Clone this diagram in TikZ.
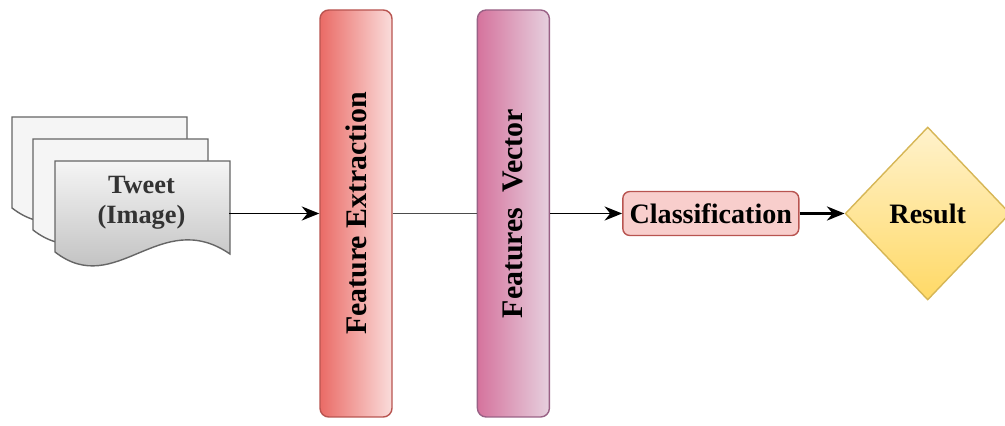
\documentclass[tikz,border=0pt]{standalone}
\usepackage{fontspec}
\setmainfont{Liberation Serif}
\newfontfamily\diagfont{Liberation Serif}
\usetikzlibrary{arrows.meta,positioning,shapes.geometric}

\definecolor{pageline}{HTML}{666666}
\definecolor{pagetop}{HTML}{F5F5F5}
\definecolor{pagebot}{HTML}{B3B3B3}
\definecolor{redline}{HTML}{B85450}
\definecolor{redlight}{HTML}{F8CECC}
\definecolor{reddark}{HTML}{EA6B66}
\definecolor{pinkline}{HTML}{996185}
\definecolor{pinklight}{HTML}{E6D0DE}
\definecolor{pinkdark}{HTML}{D5739D}
\definecolor{yelline}{HTML}{D6B656}
\definecolor{yellight}{HTML}{FFF2CC}
\definecolor{yeldark}{HTML}{FFD966}

% one sheet of the tweet stack, top left corner at (0,0)
\newcommand{\tweetpage}{(0,0) -- (3.5,0) -- (3.5,-1.86)
  .. controls (2.1,-0.9) and (1.225,-2.77) .. (0,-1.82) -- cycle}

\begin{document}
\begin{tikzpicture}[
    stage/.style={draw, rounded corners=5pt, minimum width=1.44cm, minimum height=8.14cm,
      line width=0.8pt, font=\diagfont\fontsize{17}{20}\selectfont\bfseries},
    box/.style={draw=redline, fill=redlight, rounded corners=4pt, minimum width=3.52cm,
      minimum height=0.88cm, line width=0.8pt, font=\diagfont\fontsize{16}{19}\selectfont\bfseries},
    arrow/.style={-{Stealth[length=10pt, width=8pt]}, line width=1.1pt}
  ]
    \useasboundingbox (0,0) rectangle (20.1,8.52);

    % stack of tweets
    \foreach \dx/\dy in {0.24/6.18, 0.66/5.74} {
      \draw[pageline, fill=pagetop, line width=0.8pt, shift={(\dx,\dy)}] \tweetpage;
    }
    \draw[pageline, top color=pagetop, bottom color=pagebot, line width=0.8pt,
      shift={(1.1,5.3)}] \tweetpage;

    \node[stage, left color=reddark, right color=redlight!70!white, draw=redline]
      (fe) at (7.12,4.25) {\rotatebox{90}{Feature Extraction}};
    \node[stage, right=1.68cm of fe, left color=pinkdark, right color=pinklight, draw=pinkline]
      (fv) {\rotatebox{90}{Features\ \ Vector}};
    \node[box, right=1.44cm of fv] (cls) {Classification};
    \node[diamond, draw=yelline, top color=yellight, bottom color=yeldark, line width=0.8pt,
      minimum width=3.3cm, minimum height=3.46cm, inner sep=0pt,
      font=\diagfont\fontsize{16}{19}\selectfont\bfseries, right=0.9cm of cls] (res) {Result};

    \node[minimum width=3.5cm, align=center, text=black!80,
      font=\diagfont\fontsize{15}{17}\selectfont\bfseries, left=1.8cm of fe, yshift=0.21cm]
      (tweet) {Tweet\\(Image)};

    \draw[arrow] (tweet.east |- fe.west) -- (fe.west);
    \draw[line width=1.1pt, black!70] (fe.east) -- (fv.west);
    \draw[arrow] (fv.east |- cls.west) -- (cls.west);
    \draw[arrow, line width=2.2pt] (cls) -- (res);
  \end{tikzpicture}
\end{document}
